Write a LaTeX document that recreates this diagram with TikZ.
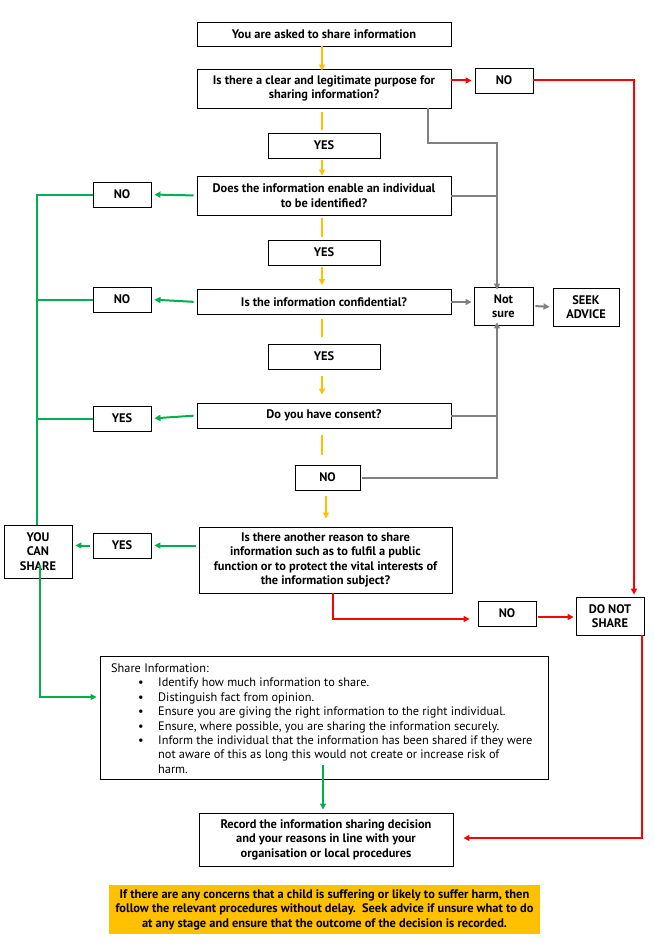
\documentclass[tikz,border=0pt]{standalone}
\usepackage{fontspec}
\setmainfont{PT Sans}
\usetikzlibrary{arrows.meta,calc}
\definecolor{cyel}{HTML}{FFC000}
\definecolor{cgrn}{HTML}{00B050}
\definecolor{cred}{HTML}{FF0000}
\definecolor{cgry}{HTML}{808080}
\tikzset{
  bx/.style={draw=black,line width=0.9pt,inner sep=0pt,align=center,font=\fontsize{12.4}{14.5}\selectfont\bfseries},
  tip/.style={-{Triangle[length=6pt,width=6pt]}},
  yl/.style={draw=cyel,line width=2pt},
  gl/.style={draw=cgrn,line width=2pt},
  rl/.style={draw=cred,line width=2pt},
  grl/.style={draw=cgry,line width=2pt},
}
\begin{document}
\begin{tikzpicture}[x=1pt,y=-1pt]
\useasboundingbox (0,0) rectangle (653,947);
% boxes
\node[bx,minimum width=254,minimum height=24] (b1) at (324,34) {You are asked to share information};
\node[bx,minimum width=254,minimum height=39] (b2) at (324,88.5) {Is there a clear and legitimate purpose for\\sharing information?};
\node[bx,minimum width=58,minimum height=25] (no1) at (504,80.5) {NO};
\node[bx,minimum width=112,minimum height=25] (yes1) at (324,145.5) {YES};
\node[bx,minimum width=254,minimum height=39] (b3) at (324,195.5) {Does the information enable an individual\\to be identified?};
\node[bx,minimum width=58,minimum height=25] (no2) at (122,194.5) {NO};
\node[bx,minimum width=112,minimum height=25] (yes2) at (324,252.5) {YES};
\node[bx,minimum width=254,minimum height=25] (b4) at (324,302) {Is the information confidential?};
\node[bx,minimum width=58,minimum height=25] (no3) at (122,299.5) {NO};
\node[bx,minimum width=59,minimum height=38] (ns) at (503.5,306) {Not\\sure};
\node[bx,minimum width=66,minimum height=38] (seek) at (586,307) {SEEK\\ADVICE};
\node[bx,minimum width=112,minimum height=25] (yes3) at (324,356.5) {YES};
\node[bx,minimum width=254,minimum height=25] (b5) at (324,415.5) {Do you have consent?};
\node[bx,minimum width=58,minimum height=25] (yes4) at (122,418.5) {YES};
\node[bx,minimum width=65,minimum height=25] (no4) at (327.5,477.5) {NO};
\node[bx,minimum width=253,minimum height=66] (b6) at (325.5,560) {Is there another reason to share\\information such as to fulfil a public\\function or to protect the vital interests of\\the information subject?};
\node[bx,minimum width=58,minimum height=25] (yes5) at (122,545.5) {YES};
\node[bx,minimum width=68,minimum height=53] (ycs) at (38,551.5) {YOU\\CAN\\SHARE};
\node[bx,minimum width=58,minimum height=25] (no5) at (507,613.5) {NO};
\node[bx,minimum width=68,minimum height=38] (dns) at (610,616) {DO NOT\\SHARE};
\node[draw=black,line width=0.9pt,minimum width=448,minimum height=123] (share) at (324,717.5) {};
\node[anchor=north west,inner sep=0pt,align=left,font=\fontsize{12.3}{14.4}\selectfont] (sharetxt) at (111,663.5)
 {Share Information:\\
 \makebox[47pt][l]{\hspace*{27pt}\textbullet}Identify how much information to share.\\
 \makebox[47pt][l]{\hspace*{27pt}\textbullet}Distinguish fact from opinion.\\
 \makebox[47pt][l]{\hspace*{27pt}\textbullet}Ensure you are giving the right information to the right individual.\\
 \makebox[47pt][l]{\hspace*{27pt}\textbullet}Ensure, where possible, you are sharing the information securely.\\
 \makebox[47pt][l]{\hspace*{27pt}\textbullet}Inform the individual that the information has been shared if they were\\
 \hspace*{47pt}not aware of this as long this would not create or increase risk of\\
 \hspace*{47pt}harm.};
\node[bx,minimum width=254,minimum height=53] (rec) at (326,839.5) {Record the information sharing decision\\and your reasons in line with your\\organisation or local procedures};
\node[bx,draw=none,fill=cyel,minimum width=431,minimum height=49] (note) at (324.5,909.5) {If there are any concerns that a child is suffering or likely to suffer harm, then\\follow the relevant procedures without delay.\ \ Seek advice if unsure what to do\\at any stage and ensure that the outcome of the decision is recorded.};
% helper coordinates
\coordinate (ax) at (322,0);
\coordinate (ax2) at (326,0);
\coordinate (gx) at (497,0);
\coordinate (lx) at (37,0);
\coordinate (rx) at (634,0);
\coordinate (g1) at (428,0);
\coordinate (g2) at (428,143);
\coordinate (g3) at (497,143);
\coordinate (r1) at (333,0);
\coordinate (r2) at (333,619);
\coordinate (r3) at (0,619);
\coordinate (r4) at (0,617);
\coordinate (r5) at (642,0);
\coordinate (r6) at (642,838);
\coordinate (r7) at (0,838);
\coordinate (ycsin) at (40,565);
\coordinate (ycsb) at (40,697);
\coordinate (sharein) at (323,765);
% yellow
\draw[yl,tip] (b1.south -| ax) -- ([yshift=-2]b2.north -| ax);
\draw[yl,shorten <=4,shorten >=3] (b2.south -| ax) -- (yes1.north -| ax);
\draw[yl,tip,shorten <=2] (yes1.south -| ax) -- (b3.north -| ax);
\draw[yl,shorten <=3,shorten >=3] (b3.south -| ax) -- (yes2.north -| ax);
\draw[yl,tip,shorten <=2,shorten >=4] (yes2.south -| ax) -- (b4.north -| ax);
\draw[yl,shorten <=4,shorten >=7] (b4.south -| ax) -- (yes3.north -| ax);
\draw[yl,tip,shorten <=7,shorten >=8] (yes3.south -| ax) -- (b5.north -| ax);
\draw[yl,shorten <=7,shorten >=10] (b5.south -| ax) -- (no4.north -| ax);
\draw[yl,tip,shorten <=6,shorten >=8] (no4.south -| ax2) -- (b6.north -| ax2);
% gray
\draw[grl,tip] (b2.south -| g1) -- (g2) -- (g3) -- ([yshift=-3]ns.north -| gx);
\draw[grl] (b3.east) -- (b3.east -| gx);
\draw[grl,tip,shorten >=2] (b4.east) -- (ns.west |- b4.east);
\draw[grl,tip,shorten <=2,shorten >=3] (ns.east) -- (seek.west);
\draw[grl] (b5.east) -- (b5.east -| gx);
\draw[grl,tip,shorten <=2] (no4.east) -- (no4.east -| gx) -- ([yshift=3]ns.south -| gx);
% green
\draw[gl,tip,shorten <=3,shorten >=3] (b3.west) -- (no2.east);
\draw[gl,tip,shorten <=3,shorten >=3] (b4.west) -- (no3.east);
\draw[gl,tip,shorten <=3,shorten >=3] (b5.west) -- (yes4.east);
\draw[gl,tip,shorten <=3,shorten >=3] (b6.west |- yes5.east) -- (yes5.east);
\draw[gl,tip,shorten <=3,shorten >=3] (yes5.west) -- (ycs.east |- yes5.west);
\draw[gl] (no2.west) -- (no2.west -| lx) -- (ycs.north -| lx);
\draw[gl] (no3.west) -- (no3.west -| lx);
\draw[gl] (yes4.west) -- (yes4.west -| lx);
\draw[gl,tip,shorten >=3] (ycsin) -- (ycsb) -- (share.west |- ycsb);
\draw[gl,tip,shorten >=3] (sharein) -- (rec.north -| sharein);
% red
\draw[rl,tip,shorten >=3] (b2.east |- no1.west) -- (no1.west);
\draw[rl,tip,shorten >=2] (no1.east) -- (no1.east -| rx) -- (dns.north -| rx);
\draw[rl,tip,shorten >=8] (b6.south -| r1) -- (r2) -- (no5.west |- r3);
\draw[rl,tip,shorten <=2,shorten >=2] (no5.east |- r4) -- (dns.west |- r4);
\draw[rl,tip,shorten >=10] (dns.south -| r5) -- (r6) -- (rec.east |- r7);
\end{tikzpicture}
\end{document}
